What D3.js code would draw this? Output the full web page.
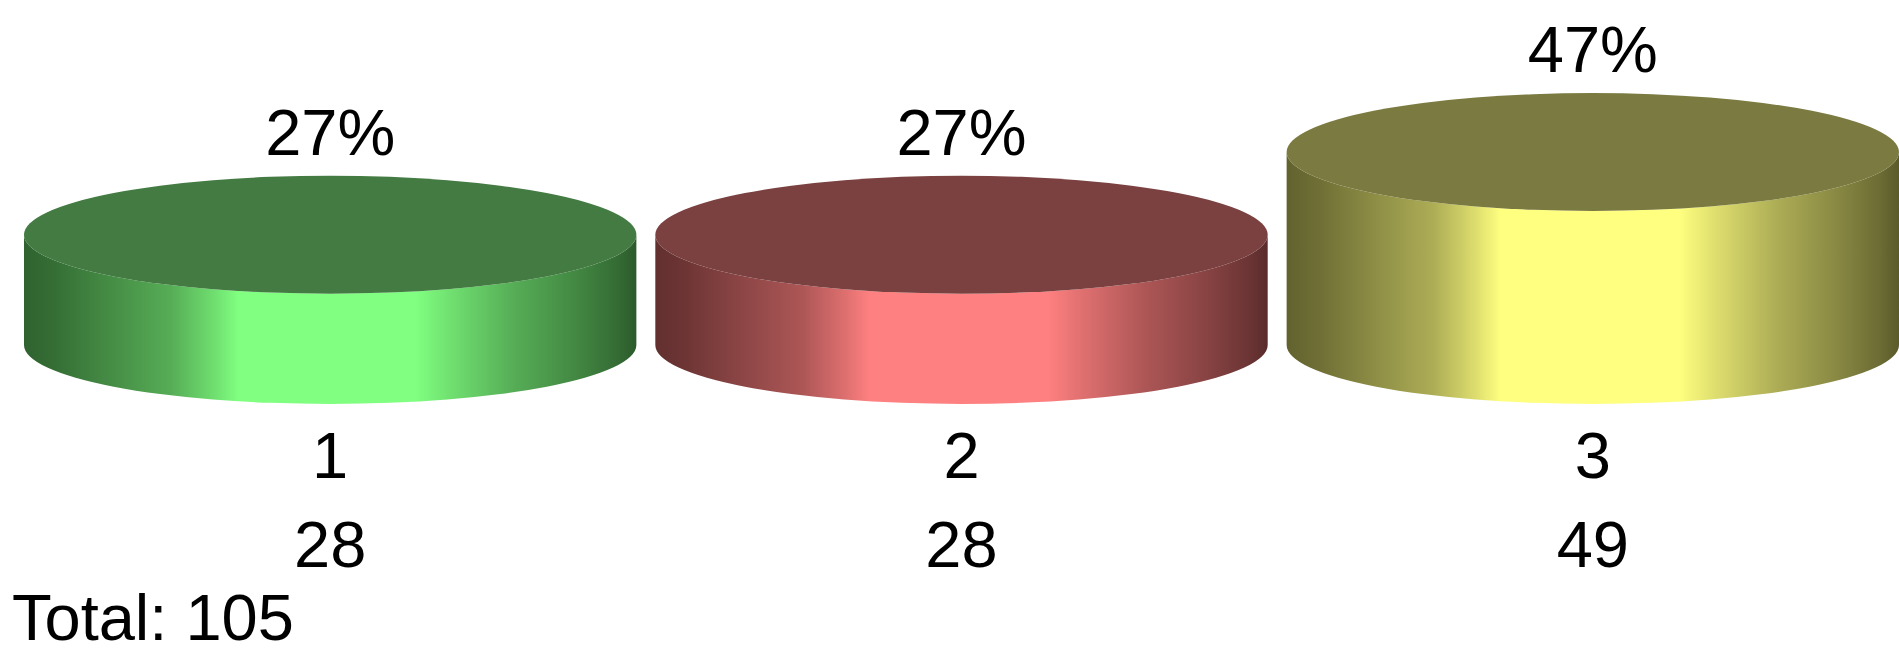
<!DOCTYPE html>
<html>
<head>
<meta charset="utf-8">
<script src="https://cdn.jsdelivr.net/npm/d3@7"></script>
<style>
  html, body { margin: 0; padding: 0; background: #fff; }
  text { font-family: "Liberation Sans", Arial, sans-serif; fill: #000; }
</style>
</head>
<body>
<svg id="chart" width="1899" height="654"></svg>
<script>
// Chart data
var categories = ["1", "2", "3"];
var counts = [28, 28, 49];
var topColors = ["#437b43", "#7b4141", "#7b7b41"];
var sideBright = ["#80ff80", "#ff8080", "#ffff80"];
var sideDark = ["#2b5a2b", "#5a2b2b", "#5a5a2b"];

var total = d3.sum(counts);
var width = 1899, height = 654;
var baseY = 345;      // centre of the bottom ellipses
var ry = 59;          // ellipse vertical radius
var fontSize = 65;

var svg = d3.select("#chart");

var x = d3.scaleBand()
	.domain(categories)
	.range([24, 1899])
	.paddingInner(0.03)
	.paddingOuter(0);

// cylinder height proportional to the count
var h = d3.scaleLinear()
	.domain([0, 49])
	.range([0, 193]);

var rows = categories.map(function (c, i) {
	return { cat: c, value: counts[i], i: i };
});

// Gradients for the shaded side of every cylinder.
var defs = svg.append("defs");
rows.forEach(function (d) {
	var mix = d3.interpolateRgb(sideDark[d.i], sideBright[d.i]);
	var grad = defs.append("linearGradient")
		.attr("id", "side" + d.i)
		.attr("x1", "0%").attr("x2", "100%")
		.attr("y1", "0%").attr("y2", "0%");
	// dark at the edges, flat bright band in the middle
	var stops = [
		[0, 0.05], [0.05, 0.12], [0.14, 0.3], [0.24, 0.5],
		[0.31, 0.8], [0.35, 1], [0.64, 1], [0.70, 0.8],
		[0.80, 0.5], [0.90, 0.28], [0.97, 0.1], [1, 0]
	];
	stops.forEach(function (s) {
		grad.append("stop")
			.attr("offset", (s[0] * 100) + "%")
			.attr("stop-color", mix(s[1]));
	});
});

var groups = svg.selectAll("g.cyl")
	.data(rows)
	.enter().append("g")
	.classed("cyl", true);

function sidePath(d) {
	var rx = x.bandwidth() / 2;
	var cx = x(d.cat) + rx;
	var top = baseY - h(d.value);
	return "M" + (cx - rx) + "," + top +
		"L" + (cx - rx) + "," + baseY +
		"A" + rx + "," + ry + " 0 0 0 " + (cx + rx) + "," + baseY +
		"L" + (cx + rx) + "," + top +
		"A" + rx + "," + ry + " 0 0 1 " + (cx - rx) + "," + top + "Z";
}

// Side of the cylinder
groups.append("path")
	.attr("d", sidePath)
	.attr("fill", function (d) { return "url(#side" + d.i + ")"; });

// Top face
groups.append("ellipse")
	.attr("cx", function (d) { return x(d.cat) + x.bandwidth() / 2; })
	.attr("cy", function (d) { return baseY - h(d.value); })
	.attr("rx", x.bandwidth() / 2)
	.attr("ry", ry)
	.attr("fill", function (d) { return topColors[d.i]; });

// Percent label above the top
groups.append("text")
	.attr("x", function (d) { return x(d.cat) + x.bandwidth() / 2; })
	.attr("y", function (d) { return baseY - h(d.value) - ry - 21; })
	.attr("text-anchor", "middle")
	.style("font-size", fontSize + "px")
	.text(function (d) { return Math.round(d.value / total * 100) + "%"; });

// Category label
groups.append("text")
	.attr("x", function (d) { return x(d.cat) + x.bandwidth() / 2; })
	.attr("y", 478)
	.attr("text-anchor", "middle")
	.style("font-size", fontSize + "px")
	.text(function (d) { return d.cat; });

// Count label
groups.append("text")
	.attr("x", function (d) { return x(d.cat) + x.bandwidth() / 2; })
	.attr("y", 567)
	.attr("text-anchor", "middle")
	.style("font-size", fontSize + "px")
	.text(function (d) { return d.value; });

svg.append("text")
	.attr("x", 12)
	.attr("y", 640)
	.style("font-size", fontSize + "px")
	.text("Total: " + total);
</script>
</body>
</html>
